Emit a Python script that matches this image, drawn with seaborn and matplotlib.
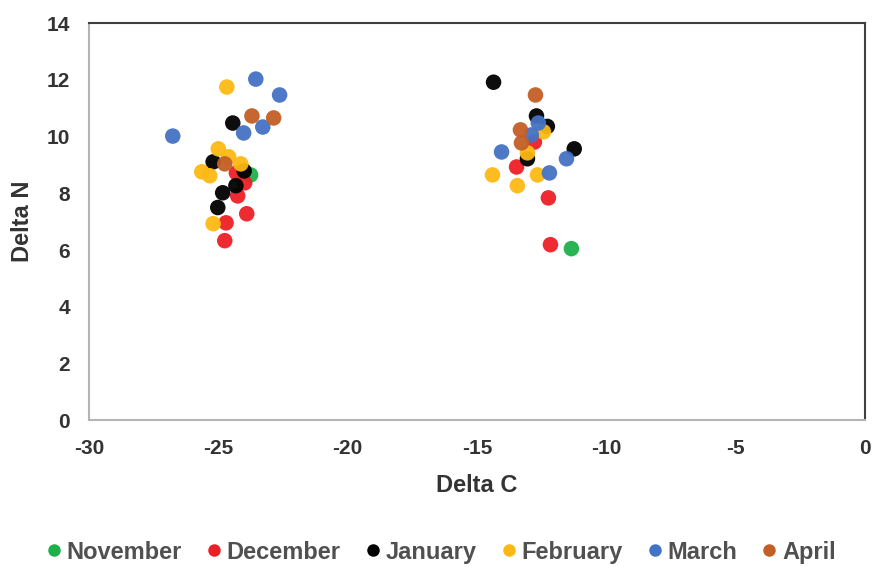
import matplotlib
matplotlib.use("Agg")
import matplotlib.pyplot as plt
import seaborn as sns
import pandas as pd

months = ["November", "December", "January", "February", "March", "April"]
colors = ["#1db14b", "#ec1f26", "#000000", "#fdb913", "#4472c4", "#c35f26"]

nov_c = [-23.75, -11.35]
nov_n = [8.65, 6.05]
dec_c = [-24.3, -23.98, -24.25, -23.9, -24.7, -24.75, -13.47, -12.78, -12.24, -12.16]
dec_n = [8.72, 8.37, 7.91, 7.28, 6.96, 6.33, 8.93, 9.81, 7.84, 6.19]
jan_c = [-24.44, -25.2, -24.0, -24.32, -24.83, -25.02, -14.36, -12.7, -12.28, -13.05, -11.24]
jan_n = [10.48, 9.11, 8.79, 8.27, 8.02, 7.50, 11.92, 10.73, 10.36, 9.22, 9.57]
feb_c = [-24.67, -25.0, -24.6, -24.13, -25.64, -25.33, -25.2, -12.43, -13.05, -14.4, -12.66, -13.44]
feb_n = [11.75, 9.57, 9.29, 9.04, 8.76, 8.62, 6.93, 10.17, 9.43, 8.65, 8.65, 8.27]
mar_c = [-23.55, -22.63, -23.28, -24.02, -26.76, -12.63, -12.9, -14.05, -11.54, -12.2]
mar_n = [12.03, 11.47, 10.34, 10.13, 10.02, 10.48, 10.06, 9.46, 9.22, 8.72]
apr_c = [-23.7, -22.86, -24.75, -12.74, -13.32, -13.28]
apr_n = [10.73, 10.66, 9.04, 11.47, 10.24, 9.78]

xs = [nov_c, dec_c, jan_c, feb_c, mar_c, apr_c]
ys = [nov_n, dec_n, jan_n, feb_n, mar_n, apr_n]
rows = []
for m, xc, yn in zip(months, xs, ys):
    for a, b in zip(xc, yn):
        rows.append({"Delta C": a, "Delta N": b, "Month": m})
df = pd.DataFrame(rows)

sns.set_theme(style="white")
plt.rcParams["font.family"] = ["Liberation Sans", "DejaVu Sans"]
plt.rcParams["axes.unicode_minus"] = False

fig = plt.figure(figsize=(8.72, 5.67), dpi=100)
ax = fig.add_axes([0.102, 0.259, 0.890, 0.700])

sns.scatterplot(data=df, x="Delta C", y="Delta N", hue="Month", hue_order=months,
                palette=colors, s=125, linewidth=0, alpha=0.95, ax=ax, legend=False)

ax.set_xlim(-30, 0)
ax.set_ylim(0, 14)
ax.set_xticks(range(-30, 1, 5))
ax.set_yticks(range(0, 15, 2))

for side in ["left", "bottom"]:
    ax.spines[side].set_color("#b4b4b4")
    ax.spines[side].set_linewidth(1.5)
for side in ["top", "right"]:
    ax.spines[side].set_color("#404040")
    ax.spines[side].set_linewidth(1.5)

ax.tick_params(axis="both", which="both", direction="out", length=4.5, width=1.2,
               color="#b4b4b4", labelsize=15, labelcolor="#333333", pad=9)
for lbl in ax.get_xticklabels() + ax.get_yticklabels():
    lbl.set_fontweight("bold")

ax.set_xlabel("Delta C", fontsize=17, fontweight="bold", color="#333333")
ax.set_ylabel("Delta N", fontsize=17, fontweight="bold", color="#333333")
ax.xaxis.label.set_va("center")
ax.yaxis.label.set_va("center")
ax.xaxis.set_label_coords(0.5, -0.164)
ax.yaxis.set_label_coords(-0.086, 0.5)

handles = [plt.Line2D([0], [0], marker="o", linestyle="", markersize=9,
                      markerfacecolor=c, markeredgewidth=0) for c in colors]
fig.legend(handles, months, loc="center", bbox_to_anchor=(0.506, 0.026), ncol=6,
           frameon=False, handlelength=0.6, handletextpad=0.25, columnspacing=1.05,
           borderpad=0, borderaxespad=0,
           prop={"size": 17, "weight": "bold"}, labelcolor="#505050")

fig.savefig("out.png", dpi=100)
